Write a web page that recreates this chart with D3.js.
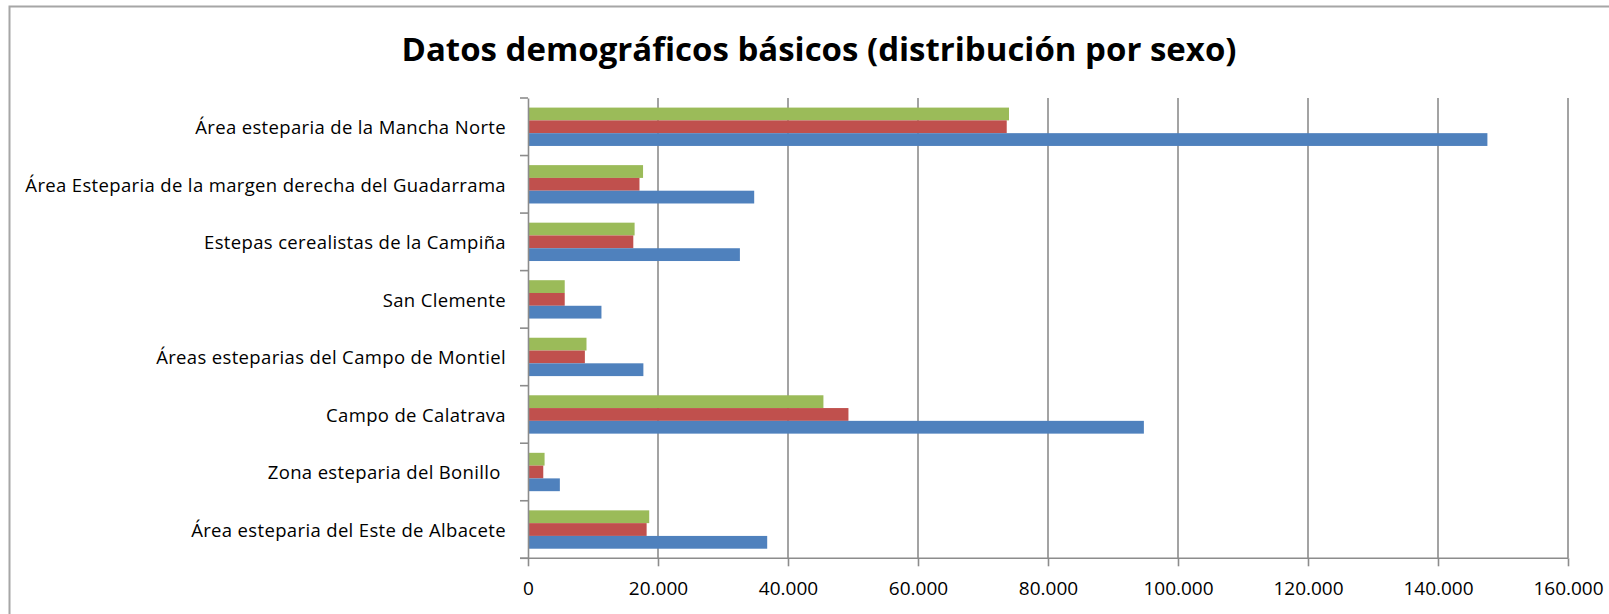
<!DOCTYPE html>
<html>
<head>
<meta charset="utf-8">
<script src="https://cdn.jsdelivr.net/npm/d3@7"></script>
<style>
  html, body { margin: 0; padding: 0; background: #fff; }
  svg { display: block; }
</style>
</head>
<body>
<script>
// Zonas esteparias: población total y desglose por sexo
const categories = [
  "Área esteparia de la Mancha Norte",
  "Área Esteparia de la margen derecha del Guadarrama",
  "Estepas cerealistas de la Campiña",
  "San Clemente",
  "Áreas esteparias del Campo de Montiel",
  "Campo de Calatrava",
  "Zona esteparia del Bonillo ",
  "Área esteparia del Este de Albacete"
];
const total   = [147600, 34800, 32600, 11300, 17750, 94750, 4900, 36800];
const hombres = [73650, 17150, 16200, 5650, 8750, 49300, 2350, 18250];
const mujeres = [74000, 17700, 16400, 5650, 9000, 45450, 2550, 18650];
const tickValues = [0, 20000, 40000, 60000, 80000, 100000, 120000, 140000, 160000];
const title = "Datos demográficos básicos (distribución por sexo)";

// series drawn top-to-bottom inside each category band
const seriesNames = ["Mujeres", "Hombres", "Total"];
const seriesValues = { Mujeres: mujeres, Hombres: hombres, Total: total };
const seriesColors = { Mujeres: "#9BBB59", Hombres: "#C0504D", Total: "#4F81BD" };

const W = 1609, H = 614;
const plotLeft = 528, plotRight = 1568, plotTop = 98, plotBottom = 558.3;

const svg = d3.select("body").append("svg")
  .attr("width", W).attr("height", H);

svg.append("rect").attr("width", W).attr("height", H).attr("fill", "#fff");

// chart area frame
svg.append("rect")
  .attr("x", 9.5).attr("y", 6.5)
  .attr("width", W + 10).attr("height", H + 10)
  .attr("fill", "none").attr("stroke", "#a6a6a6").attr("stroke-width", 2);

const es = d3.formatLocale({ decimal: ",", thousands: ".", grouping: [3], currency: ["", " €"] });
const fmt = v => v === 0 ? "0" : es.format(",d")(v);

const x = d3.scaleLinear().domain([0, 160000]).range([plotLeft, plotRight]);
const y = d3.scaleBand().domain(categories).range([plotTop, plotBottom]).paddingInner(0).paddingOuter(0);
const ySub = d3.scaleBand().domain(seriesNames).range([0, y.bandwidth()])
  .paddingInner(0).paddingOuter(0.75);

// vertical gridlines
svg.append("g").selectAll("line")
  .data(tickValues.filter(v => v > 0))
  .join("line")
  .attr("x1", d => x(d)).attr("x2", d => x(d))
  .attr("y1", plotTop).attr("y2", plotBottom)
  .attr("stroke", "#8c8c8c").attr("stroke-width", 1.6);

// bars
const groups = svg.append("g").selectAll("g")
  .data(categories)
  .join("g")
  .attr("transform", d => `translate(0,${y(d)})`);

groups.selectAll("rect")
  .data((c, i) => seriesNames.map(s => ({ s, v: seriesValues[s][i] })))
  .join("rect")
  .attr("x", x(0))
  .attr("y", d => ySub(d.s))
  .attr("width", d => x(d.v) - x(0))
  .attr("height", ySub.bandwidth())
  .attr("fill", d => seriesColors[d.s]);

// category axis
const yAxis = d3.axisLeft(y).tickSize(0).tickPadding(22);
const yG = svg.append("g").attr("transform", `translate(${plotLeft},0)`).call(yAxis);
yG.select(".domain").attr("stroke", "#8c8c8c").attr("stroke-width", 1.6);
yG.selectAll("text")
  .attr("font-family", "'Open Sans', sans-serif")
  .attr("font-size", 18.5)
  .attr("letter-spacing", 0.35)
  .attr("fill", "#000")
  .attr("dy", "0.4em")
  .style("white-space", "pre");
// tick marks at band boundaries
svg.append("g").selectAll("line")
  .data(d3.range(categories.length + 1))
  .join("line")
  .attr("x1", plotLeft - 8).attr("x2", plotLeft)
  .attr("y1", i => plotTop + i * y.step()).attr("y2", i => plotTop + i * y.step())
  .attr("stroke", "#8c8c8c").attr("stroke-width", 1.6);

// value axis
const xAxis = d3.axisBottom(x).tickValues(tickValues).tickFormat(fmt).tickSize(8).tickPadding(15);
const xG = svg.append("g").attr("transform", `translate(0,${plotBottom})`).call(xAxis);
xG.select(".domain").attr("stroke", "#8c8c8c").attr("stroke-width", 1.6)
  .attr("d", `M${plotLeft - 8},0H${plotRight}`);
xG.selectAll(".tick line").attr("stroke", "#8c8c8c").attr("stroke-width", 1.6);
xG.selectAll("text")
  .attr("font-family", "'Open Sans', sans-serif")
  .attr("font-size", 19)
  .attr("fill", "#000");

// title
svg.append("text")
  .attr("x", 819).attr("y", 61)
  .attr("text-anchor", "middle")
  .attr("font-family", "'Open Sans', sans-serif")
  .attr("font-weight", "bold")
  .attr("font-size", 33)
  .attr("textLength", 835)
  .attr("lengthAdjust", "spacingAndGlyphs")
  .attr("fill", "#000")
  .text(title);
</script>
</body>
</html>
